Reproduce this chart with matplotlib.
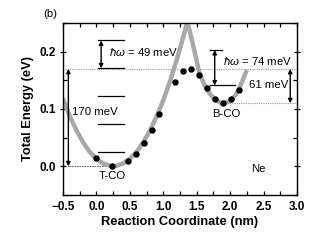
import matplotlib.pyplot as plt
from matplotlib.ticker import MultipleLocator

# gray potential curve
curve_x = [-0.5, -0.4, -0.3, -0.2, -0.1, 0.0, 0.1, 0.2, 0.25, 0.3, 0.4, 0.5, 0.6,
           0.7, 0.8, 0.9, 1.0, 1.1, 1.2, 1.3, 1.36,
           1.45, 1.54, 1.62, 1.70, 1.78, 1.86, 1.92, 2.0, 2.08, 2.16, 2.25]
curve_y = [0.118, 0.088, 0.063, 0.042, 0.025, 0.013, 0.005, 0.001, 0.0, 0.001, 0.005, 0.013, 0.025,
           0.042, 0.062, 0.087, 0.115, 0.148, 0.185, 0.226, 0.253,
           0.210, 0.163, 0.141, 0.126, 0.116, 0.111, 0.110, 0.114, 0.124, 0.142, 0.168]

# calculated points (black dots)
dots_x = [-0.01, 0.23, 0.47, 0.59, 0.71, 0.83, 0.94, 1.18, 1.30, 1.42,
          1.54, 1.66, 1.78, 1.89, 2.02, 2.14]
dots_y = [0.015, 0.000, 0.010, 0.022, 0.040, 0.064, 0.091, 0.147, 0.166, 0.170,
          0.159, 0.136, 0.117, 0.110, 0.117, 0.134]

# vibrational levels
tco_levels = [0.0245, 0.0735, 0.122, 0.171, 0.2195]
bco_levels = [0.141, 0.203]

e_tco_min = 0.0
e_barrier = 0.170
e_bco_min = 0.110

plt.rcParams['font.family'] = ['Liberation Sans', 'DejaVu Sans']
plt.rcParams['mathtext.fontset'] = 'custom'
plt.rcParams['mathtext.it'] = 'Liberation Sans:italic'
plt.rcParams['mathtext.rm'] = 'Liberation Sans'

txt = dict(fontsize=8.2, family=['Liberation Sans', 'DejaVu Sans'])

fig = plt.figure(figsize=(3.27, 2.49), dpi=100)
ax = fig.add_axes([0.1927, 0.2169, 0.7153, 0.6907])

ax.plot(curve_x, curve_y, color='#a8a8a8', lw=3.2, solid_capstyle='butt', zorder=2)
ax.plot(dots_x, dots_y, 'o', color='k', ms=3.6, zorder=4)

# dotted reference lines
ax.plot([-0.47, 3.0], [e_barrier, e_barrier], ls=(0, (1, 1)), color='#999999', lw=0.8, zorder=1)
ax.plot([-0.42, 0.23], [e_tco_min, e_tco_min], ls=(0, (1, 1)), color='k', lw=0.6, zorder=1)
ax.plot([1.89, 3.0], [e_bco_min, e_bco_min], ls=(0, (1, 1)), color='#999999', lw=0.8, zorder=1)

# level lines
for lv in tco_levels:
    ax.plot([0.03, 0.42], [lv, lv], color='k', lw=0.9, zorder=3)
ax.plot([1.70, 1.88], [bco_levels[1], bco_levels[1]], color='k', lw=0.9, zorder=3)
ax.plot([1.70, 2.08], [bco_levels[0], bco_levels[0]], color='k', lw=0.9, zorder=3)

arrow = dict(arrowstyle='<|-|>', color='k', lw=1.0, mutation_scale=6, shrinkA=0, shrinkB=0)
ax.annotate('', xy=(-0.42, e_barrier), xytext=(-0.42, e_tco_min), arrowprops=arrow)
ax.annotate('', xy=(0.07, tco_levels[4]), xytext=(0.07, tco_levels[3]), arrowprops=arrow)
ax.annotate('', xy=(1.77, bco_levels[1]), xytext=(1.77, bco_levels[0]), arrowprops=arrow)
ax.annotate('', xy=(2.90, e_barrier), xytext=(2.90, e_bco_min), arrowprops=arrow)

ax.text(-0.36, 0.094, '170 meV', ha='left', va='center', **txt)
ax.text(0.19, 0.199, r'$\hbar\omega$ = 49 meV', ha='left', va='center', **txt)
ax.text(1.90, 0.184, r'$\hbar\omega$ = 74 meV', ha='left', va='center', **txt)
ax.text(2.28, 0.141, '61 meV', ha='left', va='center', **txt)
ax.text(0.23, -0.017, 'T-CO', ha='center', va='center', **txt)
ax.text(1.94, 0.091, 'B-CO', ha='center', va='center', **txt)
ax.text(2.43, -0.005, 'Ne', ha='center', va='center', **txt)
fig.text(0.131, 0.944, '(b)', ha='left', va='center', **txt)

ax.set_xlim(-0.5, 3.0)
ax.set_ylim(-0.05, 0.25)
ax.xaxis.set_major_locator(MultipleLocator(0.5))
ax.xaxis.set_minor_locator(MultipleLocator(0.25))
ax.yaxis.set_major_locator(MultipleLocator(0.1))
ax.yaxis.set_minor_locator(MultipleLocator(0.05))
ax.tick_params(which='both', direction='in', top=True, right=True, length=3, width=0.9)
ax.tick_params(axis='y', which='major', left=True, direction='inout', length=4)
for lab in ax.get_xticklabels() + ax.get_yticklabels():
    lab.set_fontweight('bold')
    lab.set_fontsize(8.5)
ax.tick_params(axis='x', pad=4)
ax.tick_params(axis='y', pad=3)
ax.set_xlabel('Reaction Coordinate (nm)', fontsize=9.3, fontweight='bold', labelpad=2.5)
ax.set_ylabel('Total Energy (eV)', fontsize=9.3, fontweight='bold', labelpad=4)
for sp in ax.spines.values():
    sp.set_linewidth(1.0)

fig.savefig('out.png', dpi=100)
